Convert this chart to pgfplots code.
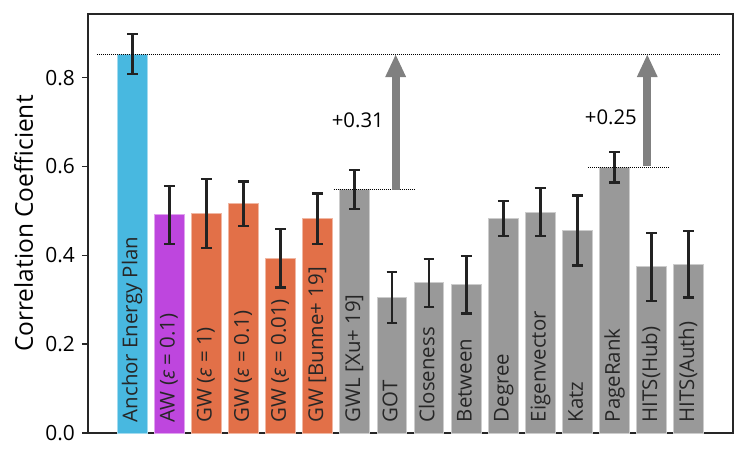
\documentclass[border=0pt]{standalone}
\usepackage{fontspec}
\setmainfont{Open Sans}
\usepackage{pgfplots}
\pgfplotsset{compat=1.18}
\usetikzlibrary{arrows.meta}
\definecolor{cblue}{RGB}{72,184,224}
\definecolor{cpurple}{RGB}{190,70,222}
\definecolor{corange}{RGB}{226,112,72}
\definecolor{cgray}{RGB}{153,153,153}
\definecolor{carrow}{RGB}{128,128,128}
\definecolor{cerr}{RGB}{34,34,34}
\pgfplotsset{mybar/.style={ybar, bar width=0.8, bar shift=0pt, line width=0.5bp,
  error bars/y dir=both, error bars/y explicit,
  error bars/error bar style={line width=1.4bp, cerr},
  error bars/error mark options={rotate=90, mark size=2.7bp, line width=1.2bp, cerr}}}
\begin{document}
\begin{tikzpicture}
\begin{axis}[
  scale only axis, width=322.5bp, height=209.6bp,
  xmin=-1.19, xmax=16.19, ymin=0, ymax=0.943,
  xtick=\empty,
  ytick={0,0.2,0.4,0.6,0.8},
  yticklabel style={/pgf/number format/.cd, fixed, fixed zerofill, precision=1, assume math mode=true},
  ticklabel style={font=\fontsize{10.5}{12}\selectfont},
  tick align=outside, major tick length=3bp, ytick pos=left,
  tick style={line width=0.8bp, black!85},
  axis line style={line width=0.8bp, black!85},
  ylabel={Correlation Coefficient},
  ylabel style={font=\fontsize{12.3}{14}\selectfont, at={(axis description cs:-0.0998,0.5)}, anchor=center},
]
\coordinate (bl) at (rel axis cs:0,0);
\coordinate (tr) at (rel axis cs:1,1);
\addplot[mybar, fill=cblue, draw=cblue!50!white]
  coordinates {(0,0.853) +- (0,0.045)};
\addplot[mybar, fill=cpurple, draw=cpurple!50!white]
  coordinates {(1,0.491) +- (0,0.065)};
\addplot[mybar, fill=corange, draw=corange!50!white]
  coordinates {(2,0.494) +- (0,0.078) (3,0.516) +- (0,0.050) (4,0.394) +- (0,0.066) (5,0.482) +- (0,0.057)};
\addplot[mybar, fill=cgray, draw=cgray!50!white]
  coordinates {(6,0.548) +- (0,0.044) (7,0.305) +- (0,0.057) (8,0.338) +- (0,0.054) (9,0.334) +- (0,0.065)
               (10,0.483) +- (0,0.040) (11,0.497) +- (0,0.054) (12,0.456) +- (0,0.079) (13,0.598) +- (0,0.034)
               (14,0.374) +- (0,0.076) (15,0.380) +- (0,0.075)};
% reference lines
\addplot[sharp plot, no markers, black, line width=0.5bp, dash pattern=on 0.5bp off 0.5bp]
  coordinates {(-0.95,0.853) (15.84,0.853)};
\addplot[sharp plot, no markers, black, line width=0.5bp, dash pattern=on 0.5bp off 0.5bp]
  coordinates {(5.43,0.548) (7.6,0.548)};
\addplot[sharp plot, no markers, black, line width=0.5bp, dash pattern=on 0.5bp off 0.5bp]
  coordinates {(12.29,0.598) (14.48,0.598)};
% arrows
\addplot[sharp plot, no markers, carrow, line width=4bp, -{Triangle[width=9.5bp,length=11.5bp]}]
  coordinates {(7.1,0.548) (7.1,0.853)};
\addplot[sharp plot, no markers, carrow, line width=4bp, -{Triangle[width=9.5bp,length=11.5bp]}]
  coordinates {(13.88,0.601) (13.88,0.853)};
\node[font=\fontsize{10.2}{12}\selectfont] at (axis cs:6.08,0.705) {+0.31};
\node[font=\fontsize{10.2}{12}\selectfont] at (axis cs:12.9,0.710) {+0.25};
% bar labels
\tikzset{blab/.style={rotate=90, anchor=mid west, inner sep=0pt, font=\fontsize{10.25}{12}\selectfont, text=black!85}}
\node[blab] at (axis cs:0,0.024) {Anchor Energy Plan};
\node[blab] at (axis cs:1,0.024) {AW ({\itshape ε} = 0.1)};
\node[blab] at (axis cs:2,0.024) {GW ({\itshape ε} = 1)};
\node[blab] at (axis cs:3,0.024) {GW ({\itshape ε} = 0.1)};
\node[blab] at (axis cs:4,0.024) {GW ({\itshape ε} = 0.01)};
\node[blab] at (axis cs:5,0.024) {GW [Bunne+ 19]};
\node[blab] at (axis cs:6,0.024) {GWL [Xu+ 19]};
\node[blab] at (axis cs:7,0.024) {GOT};
\node[blab] at (axis cs:8,0.024) {Closeness};
\node[blab] at (axis cs:9,0.024) {Between};
\node[blab] at (axis cs:10,0.024) {Degree};
\node[blab] at (axis cs:11,0.024) {Eigenvector};
\node[blab] at (axis cs:12,0.024) {Katz};
\node[blab] at (axis cs:13,0.024) {PageRank};
\node[blab] at (axis cs:14,0.024) {HITS(Hub)};
\node[blab] at (axis cs:15,0.024) {HITS(Auth)};
\end{axis}
\pgfresetboundingbox
\path[use as bounding box] ([xshift=-44bp,yshift=-12.85bp]bl) rectangle ([xshift=7bp,yshift=7bp]tr);
\end{tikzpicture}
\end{document}
